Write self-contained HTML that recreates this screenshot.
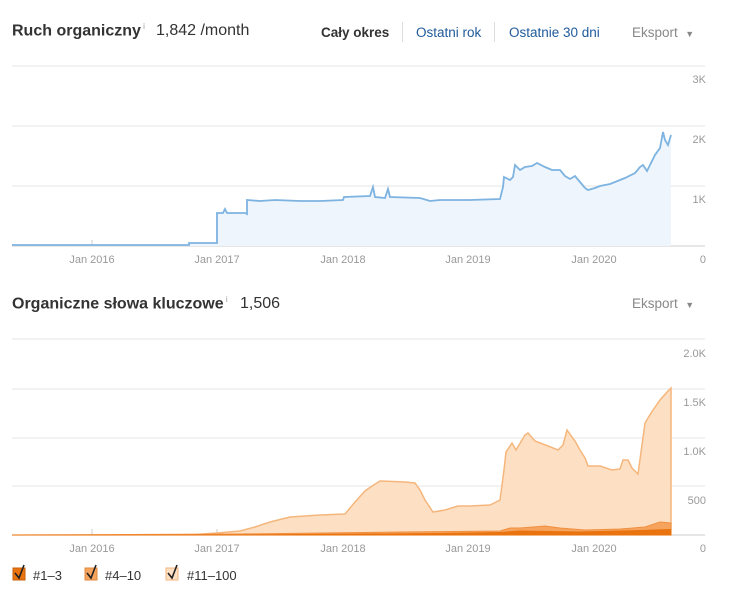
<!DOCTYPE html><html><head><style>
body{margin:0;background:#fff;width:730px;height:615px;overflow:hidden;font-family:"Liberation Sans",sans-serif;position:relative}
.t{position:absolute;white-space:nowrap}
svg{position:absolute;left:0;top:0}
</style></head><body>
<div class="t" style="left:12px;top:22px;font-size:16px;font-weight:bold;color:#333">Ruch organiczny<sup style="font-size:8px;color:#999;font-weight:normal"> i</sup></div>
<div class="t" style="left:156px;top:22px;font-size:16px;color:#333">1,842 /month</div>
<div class="t" style="left:321px;top:25px;font-size:13.5px;font-weight:bold;color:#333">Cały okres</div>
<div class="t" style="left:402px;top:22px;height:20px;border-left:1px solid #ddd"></div>
<div class="t" style="left:416px;top:25px;font-size:13.5px;color:#1f5a9a">Ostatni rok</div>
<div class="t" style="left:494px;top:22px;height:20px;border-left:1px solid #ddd"></div>
<div class="t" style="left:509px;top:25px;font-size:13.5px;color:#1f5a9a">Ostatnie 30 dni</div>
<div class="t" style="left:632px;top:25px;font-size:13.5px;color:#888">Eksport &nbsp;<span style="font-size:9px">▼</span></div>
<div class="t" style="left:12px;top:295px;font-size:16px;font-weight:bold;color:#333">Organiczne słowa kluczowe<sup style="font-size:8px;color:#999;font-weight:normal"> i</sup></div>
<div class="t" style="left:240px;top:295px;font-size:16px;color:#333">1,506</div>
<div class="t" style="left:632px;top:296px;font-size:13.5px;color:#888">Eksport &nbsp;<span style="font-size:9px">▼</span></div>
<svg width="730" height="615" font-family="Liberation Sans, sans-serif" font-size="11" fill="#999">
<g stroke="#e6e6e6"><line x1="12" x2="705" y1="66" y2="66"/><line x1="12" x2="705" y1="126" y2="126"/><line x1="12" x2="705" y1="186" y2="186"/>
<line x1="12" x2="705" y1="339" y2="339"/><line x1="12" x2="705" y1="389" y2="389"/><line x1="12" x2="705" y1="438" y2="438"/><line x1="12" x2="705" y1="486" y2="486"/></g>
<line x1="12" x2="705" y1="246" y2="246" stroke="#ccc"/><line x1="12" x2="705" y1="535" y2="535" stroke="#ccc"/>
<g stroke="#ccc"><line x1="92" x2="92" y1="240" y2="246"/><line x1="217" x2="217" y1="240" y2="246"/><line x1="343" x2="343" y1="240" y2="246"/><line x1="468" x2="468" y1="240" y2="246"/><line x1="594" x2="594" y1="240" y2="246"/>
<line x1="92" x2="92" y1="529" y2="535"/><line x1="217" x2="217" y1="529" y2="535"/><line x1="343" x2="343" y1="529" y2="535"/><line x1="468" x2="468" y1="529" y2="535"/><line x1="594" x2="594" y1="529" y2="535"/></g>
<g text-anchor="middle"><text x="92" y="263">Jan 2016</text><text x="217" y="263">Jan 2017</text><text x="343" y="263">Jan 2018</text><text x="468" y="263">Jan 2019</text><text x="594" y="263">Jan 2020</text>
<text x="92" y="552">Jan 2016</text><text x="217" y="552">Jan 2017</text><text x="343" y="552">Jan 2018</text><text x="468" y="552">Jan 2019</text><text x="594" y="552">Jan 2020</text></g>
<g text-anchor="end"><text x="706" y="83">3K</text><text x="706" y="143">2K</text><text x="706" y="203">1K</text><text x="706" y="263">0</text>
<text x="706" y="357">2.0K</text><text x="706" y="406">1.5K</text><text x="706" y="455">1.0K</text><text x="706" y="504">500</text><text x="706" y="552">0</text></g>
<path d="M12,245 L189,245 L189,243 L217,243 L217,213 L223,213 L225,209 L227,213 L245,213 L247,214 L247,200 L260,201 L275,200 L300,201 L320,201 L343,200 L344,197 L370,196 L373,187 L375,197 L385,198 L388,189 L390,197 L420,198 L430,201 L440,200 L470,200 L500,199 L503,187 L504,177 L510,180 L513,177 L515,165 L520,170 L525,167 L532,166 L537,163 L545,167 L552,170 L560,170 L565,176 L570,179 L575,176 L580,182 L585,188 L588,190 L595,188 L600,186 L610,184 L620,180 L625,178 L635,173 L640,167 L643,165 L647,171 L650,165 L655,155 L660,148 L663,132 L665,140 L668,145 L671,135 L671,246 L12,246Z" fill="#eef5fc" stroke="none"/>
<path d="M12,245 L189,245 L189,243 L217,243 L217,213 L223,213 L225,209 L227,213 L245,213 L247,214 L247,200 L260,201 L275,200 L300,201 L320,201 L343,200 L344,197 L370,196 L373,187 L375,197 L385,198 L388,189 L390,197 L420,198 L430,201 L440,200 L470,200 L500,199 L503,187 L504,177 L510,180 L513,177 L515,165 L520,170 L525,167 L532,166 L537,163 L545,167 L552,170 L560,170 L565,176 L570,179 L575,176 L580,182 L585,188 L588,190 L595,188 L600,186 L610,184 L620,180 L625,178 L635,173 L640,167 L643,165 L647,171 L650,165 L655,155 L660,148 L663,132 L665,140 L668,145 L671,135" fill="none" stroke="#7db3e0" stroke-width="1.8"/>
<path d="M12,535 L190,535 L217,533 L240,531 L255,527 L270,522 L290,517 L320,515 L345,514 L355,502 L365,491 L372,486 L380,481 L405,482 L415,483 L420,490 L425,500 L433,512 L445,510 L458,506 L470,506 L490,505 L500,500 L504,470 L506,452 L512,443 L516,450 L522,440 L525,435 L528,433 L535,441 L548,446 L558,450 L563,445 L567,430 L572,437 L575,441 L580,450 L585,458 L588,466 L600,466 L612,470 L620,469 L623,460 L628,460 L632,468 L638,474 L645,423 L651,413 L660,400 L668,391 L671,388 L671,535Z" fill="#fde0c4" stroke="#f5b67c" stroke-width="1.5"/>
<path d="M12,535 L240,534 L400,532 L500,531 L510,528 L520,528 L545,526 L560,528 L585,530 L620,529 L645,527 L660,522 L671,523 L671,535Z" fill="#f6a35e" stroke="#f09040" stroke-width="1"/>
<path d="M12,535 L240,534.5 L440,533 L500,532 L520,530.5 L580,531.5 L640,530 L671,529 L671,535Z" fill="#e8730f"/>
<g font-size="13" fill="#333"><text x="33" y="580">#1–3</text><text x="105" y="580">#4–10</text><text x="187" y="580">#11–100</text></g>
<rect x="13" y="568" width="12" height="12" fill="#e8730f" stroke="#c85f08"/>
<rect x="85" y="568" width="12" height="12" fill="#f6a35e" stroke="#e08a3c"/>
<rect x="166" y="568" width="12" height="12" fill="#fde0c4" stroke="#f5b67c"/>
<g fill="none" stroke="#222" stroke-width="1.6"><path d="M15,573 L19,578 L24,565"/><path d="M87,573 L91,578 L96,565"/><path d="M168,573 L172,578 L177,565"/></g>
</svg>
</body></html>
